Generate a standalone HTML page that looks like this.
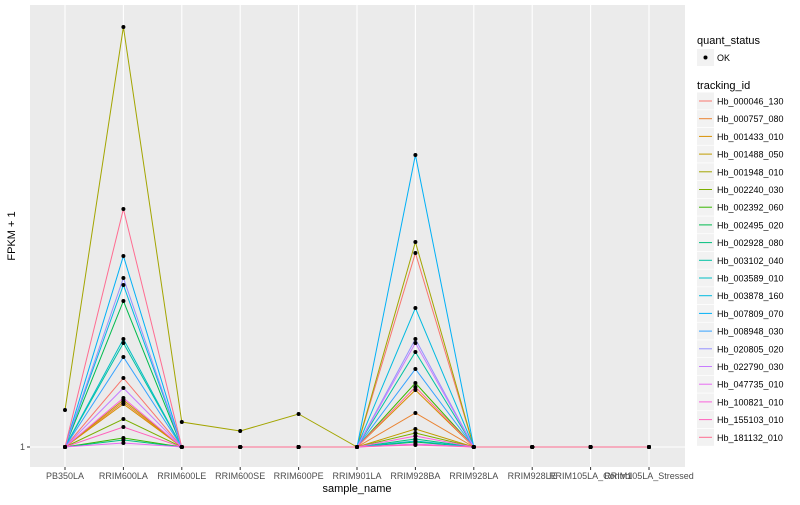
<!DOCTYPE html>
<html><head><meta charset="utf-8"><style>
body{margin:0;background:#fff;}
svg text{font-family:"Liberation Sans",sans-serif;}
</style></head><body>
<svg id="chart" width="800" height="500" xmlns="http://www.w3.org/2000/svg">
<rect x="0" y="0" width="800" height="500" fill="#fff"/>
<rect x="30" y="5" width="655" height="462" fill="#EBEBEB"/>
<g id="grid"></g>
<g id="lines"></g>
<g id="points"></g>
<g id="axes"></g>
<g id="legend"></g>
</svg>
<script>
const categories=["PB350LA","RRIM600LA","RRIM600LE","RRIM600SE","RRIM600PE","RRIM901LA","RRIM928BA","RRIM928LA","RRIM928LE","RRIM105LA_Control","RRIM105LA_Stressed"];
const seriesIds=["Hb_000046_130","Hb_000757_080","Hb_001433_010","Hb_001488_050","Hb_001948_010","Hb_002240_030","Hb_002392_060","Hb_002495_020","Hb_002928_080","Hb_003102_040","Hb_003589_010","Hb_003878_160","Hb_007809_070","Hb_008948_030","Hb_020805_020","Hb_022790_030","Hb_047735_010","Hb_100821_010","Hb_155103_010","Hb_181132_010"];
const colors=["#F8766D","#EA8331","#D89000","#C09B00","#A3A500","#7CAE00","#39B600","#00BB4E","#00BF7D","#00C1A3","#00BFC4","#00BAE0","#00B0F6","#35A2FF","#9590FF","#C77CFF","#E76BF3","#FA62DB","#FF62BC","#FF6C91"];
// values at RRIM600LA and RRIM928BA (height units above baseline)
const valsRRIM600LA=[69,45,43,47,420,28,9,146,7,104,108,162,191,90,169,59,4,49,20,238];
const valsRRIM928BA=[194,34,57,18,205,14,64,5,8,95,6,139,292,78,108,104,3,11,2,60];
// series Hb_001948_010 other values
const olivePB350LA=37, oliveRRIM600LE=25, oliveRRIM600SE=16, oliveRRIM600PE=33;
const yTicks=[0]; const yTickLabels=["1"];
const NS="http://www.w3.org/2000/svg";
function xScale(i){return 65+i*58.4;}
function yScale(v){return 447-v*(420/420);}
function mk(tag,attrs,parent){const e=document.createElementNS(NS,tag);for(const k in attrs)e.setAttribute(k,attrs[k]);parent.appendChild(e);return e;}
const grid=document.getElementById('grid'),lines=document.getElementById('lines'),pts=document.getElementById('points'),axes=document.getElementById('axes'),leg=document.getElementById('legend');
categories.forEach((c,i)=>{
 const l=mk('line',{x1:xScale(i),x2:xScale(i),y1:5,y2:467,stroke:'#fff','stroke-width':1.1},grid);
 
 
 const t=mk('line',{x1:xScale(i),x2:xScale(i),y1:467,y2:470,stroke:'#333','stroke-width':1},axes);
 
 
 const tx=mk('text',{x:xScale(i),y:479,'font-size':9,fill:'#4D4D4D','text-anchor':'middle'},axes);
 tx.textContent=c;
 
 
});
yTicks.forEach((v,i)=>{
 const g=mk('line',{x1:30,x2:685,y1:yScale(v),y2:yScale(v),stroke:'#fff','stroke-width':1.1},grid);
 
 
 const t=mk('line',{x1:27,x2:30,y1:yScale(v),y2:yScale(v),stroke:'#333'},axes);
 
 
 const tx=mk('text',{x:25,y:yScale(v)+3,'font-size':9,fill:'#4D4D4D','text-anchor':'end'},axes);
 tx.textContent=yTickLabels[i];
 
 
});
function seriesValues(s){
 const v=categories.map(()=>0);
 v[1]=valsRRIM600LA[s]; v[6]=valsRRIM928BA[s];
 if(s===4){v[0]=olivePB350LA;v[2]=oliveRRIM600LE;v[3]=oliveRRIM600SE;v[4]=oliveRRIM600PE;}
 return v;
}
seriesIds.forEach((id,s)=>{
 const v=seriesValues(s);
 const p=mk('polyline',{points:v.map((d,i)=>xScale(i)+','+yScale(d)).join(' '),fill:'none',stroke:colors[s],'stroke-width':1},lines);
 
 
 v.forEach((d,i)=>{
  const c=mk('circle',{cx:xScale(i),cy:yScale(d),r:2,fill:'#000'},pts);
  
  
 });
});
let t=mk('text',{x:357,y:492,'font-size':11,fill:'#000','text-anchor':'middle'},axes);t.textContent='sample_name';


t=mk('text',{x:15,y:236,'font-size':11,fill:'#000','text-anchor':'middle',transform:'rotate(-90 15 236)'},axes);t.textContent='FPKM + 1';


t=mk('text',{x:697,y:44,'font-size':11,fill:'#000'},leg);t.textContent='quant_status';


let r=mk('rect',{x:697,y:49,width:17,height:17,fill:'#F2F2F2'},leg);


mk('circle',{cx:705.5,cy:57.5,r:2,fill:'#000'},leg);
t=mk('text',{x:717,y:61,'font-size':9,fill:'#000'},leg);t.textContent='OK';


t=mk('text',{x:697,y:89,'font-size':11,fill:'#000'},leg);t.textContent='tracking_id';


seriesIds.forEach((id,s)=>{
 const y=101+s*17.7;
 const k=mk('rect',{x:697,y:y-8.5,width:17,height:17,fill:'#F2F2F2'},leg);
 
 
 mk('line',{x1:699,x2:712,y1:y,y2:y,stroke:colors[s],'stroke-width':1},leg);
 const tx=mk('text',{x:717,y:y+3.5,'font-size':9,fill:'#000'},leg);
 tx.textContent=id;
 
 
});
</script>
</body></html>
